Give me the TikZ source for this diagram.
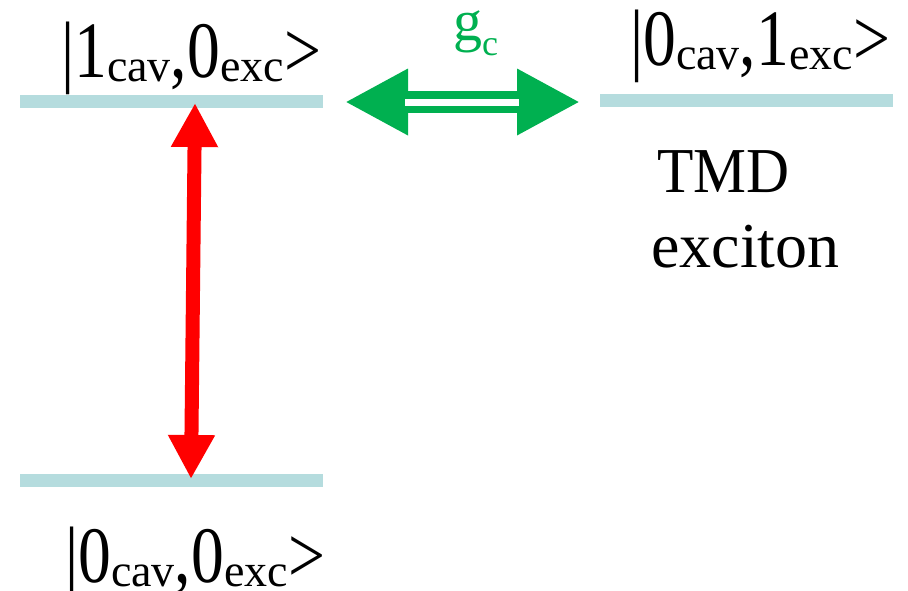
\documentclass[tikz,border=0pt]{standalone}
\usepackage{fontspec}
\setmainfont{Liberation Serif}
\usetikzlibrary{arrows.meta}
\definecolor{levelc}{RGB}{181,220,222}
\definecolor{gcc}{RGB}{0,176,80}
\definecolor{redc}{RGB}{255,0,0}
\newcommand{\mysub}[1]{\raisebox{-4pt}{\fontsize{46}{50}\selectfont #1}}
\newcommand{\gsub}[1]{\raisebox{-15pt}{\fontsize{36}{40}\selectfont #1}}
\newcommand{\nw}[1]{\scalebox{0.82}[1]{#1}}
\tikzset{
  level/.style={draw=levelc, line width=13pt},
  statelbl/.style={inner sep=0pt, anchor=base west, font=\fontsize{80}{96}\selectfont},
  plainlbl/.style={inner sep=0pt, anchor=base west, font=\fontsize{64}{75}\selectfont},
  redarrow/.style={draw=redc, line width=14pt, {Triangle[width=44pt,length=44pt]}-{Triangle[width=44pt,length=44pt]}},
  greenarrow/.style={draw=gcc, line width=22pt, {Triangle[width=62pt,length=63pt]}-{Triangle[width=62pt,length=63pt]}},
}
\begin{document}
\begin{tikzpicture}[x=1pt,y=-1pt]
\useasboundingbox (0,0) rectangle (908,590);
% levels
\coordinate (l1a) at (20,101);
\coordinate (l1b) at (323,101);
\coordinate (r1a) at (600,100);
\coordinate (r1b) at (893,100);
\coordinate (l0a) at (20,480);
\coordinate (l0b) at (323,480);
\draw[level] (l1a) -- (l1b);
\draw[level] (r1a) -- (r1b);
\draw[level] (l0a) -- (l0b);
% red arrow
\coordinate (rtop) at (195,103);
\coordinate (rbot) at (191,479);
\draw[redarrow] (rbot) -- (rtop);
% green arrow
\coordinate (gl) at (345,102);
\coordinate (gr) at (580,102);
\coordinate (gls) at (405,102);
\coordinate (grs) at (519,102);
\draw[greenarrow] (gl) -- (gr);
\draw[white, line width=7pt] (gls) -- (grs);
% labels
\node[statelbl] (s10) at (61,77) {\nw{|1}\mysub{cav}\nw{,0}\mysub{exc}\nw{>}};
\node[statelbl] (s01) at (630,65) {\nw{|0}\mysub{cav}\nw{,1}\mysub{exc}\nw{>}};
\node[statelbl] (s00) at (65,582) {\nw{|0}\mysub{cav}\nw{,0}\mysub{exc}\nw{>}};
\node[plainlbl] (tmd) at (657,192) {\scalebox{0.93}[1]{TMD}};
\node[plainlbl] (exc) at (651,267) {exciton};
\node[inner sep=0pt, anchor=base west, text=gcc, font=\fontsize{58}{64}\selectfont] (gc) at (453,40) {g\gsub{c}};
\end{tikzpicture}
\end{document}
